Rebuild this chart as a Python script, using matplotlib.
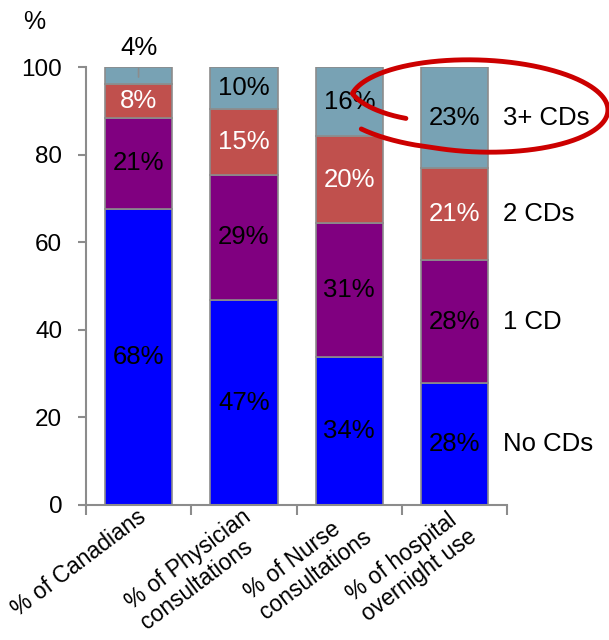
import matplotlib.pyplot as plt
import numpy as np

plt.rcParams['font.family'] = ['Liberation Sans', 'DejaVu Sans']

categories = ['% of Canadians', '% of Physician\nconsultations',
              '% of Nurse\nconsultations', '% of hospital\novernight use']
groups = ['No CDs', '1 CD', '2 CDs', '3+ CDs']
no_cds = [67.6, 46.8, 33.7, 27.8]
one_cd = [20.9, 28.6, 30.6, 28.2]
two_cds = [7.6, 15.0, 20.0, 21.0]
three_cds = [3.9, 9.6, 15.7, 23.0]

series = [no_cds, one_cd, two_cds, three_cds]
colors = ['#0000FF', '#800080', '#C0504D', '#78A2B4']
text_colors = ['black', 'black', 'white', 'black']
grey = '#8C8C8C'

fig = plt.figure(figsize=(6.09, 6.40), dpi=100)
ax = fig.add_axes([0.141, 0.211, 0.692, 0.684])

x = np.arange(len(categories))
bottom = np.zeros(len(categories))
for vals, col, tcol in zip(series, colors, text_colors):
    vals = np.array(vals)
    ax.bar(x, vals, 0.64, bottom=bottom, color=col, edgecolor=grey, linewidth=1.2, zorder=2)
    for i, v in enumerate(vals):
        if v < 5:
            # small segment: label above the bar with a short leader line
            ax.annotate(f'{v:.0f}%', xy=(x[i], bottom[i] + v / 2 - 0.3),
                        xytext=(x[i], 104.3), ha='center', va='center',
                        fontsize=18.5, color='black', annotation_clip=False,
                        arrowprops=dict(arrowstyle='-', color=grey, lw=1.2,
                                        shrinkA=4, shrinkB=0))
        else:
            ax.text(x[i], bottom[i] + v / 2, f'{v:.0f}%', ha='center', va='center',
                    fontsize=18.5, color=tcol, zorder=3)
    bottom += vals

# group names to the right of the last bar
bottom = 0.0
for name, vals in zip(groups, series):
    ax.text(3.46, bottom + vals[-1] / 2, name, ha='left', va='center',
            fontsize=18.5, clip_on=False)
    bottom += vals[-1]

ax.set_xlim(-0.5, 3.5)
ax.set_ylim(0, 100)
ax.set_yticks(np.arange(0, 101, 20))
ax.set_xticks(np.arange(-0.5, 4, 1))
ax.set_xticklabels([])
ax.tick_params(axis='x', which='major', length=7, width=1.5, color=grey)
ax.tick_params(axis='y', length=6, width=1.5, color=grey, pad=11, labelsize=17.5)
for s in ['top', 'right']:
    ax.spines[s].set_visible(False)
for s in ['left', 'bottom']:
    ax.spines[s].set_color(grey)
    ax.spines[s].set_linewidth(1.5)

# rotated category names under the bars
for i, cat in enumerate(categories):
    ax.annotate(cat, xy=(x[i], 0), xycoords=('data', 'axes fraction'),
                xytext=(-1.5, 0), textcoords='offset points',
                rotation=37, rotation_mode='anchor', ha='right', va='top',
                multialignment='left', fontsize=16.5, linespacing=1.1)

fig.text(0.056, 0.966, '%', ha='center', va='center', fontsize=18)

# hand-drawn red loop around the 3+ CDs segment
deg = np.linspace(210, -147, 400)
t = np.radians(deg)
s = 1 - 0.35 * np.clip((deg - 170) / 40, 0, 1) + 0.08 * np.clip((-110 - deg) / 37, 0, 1)
cx, cy, a, b = 479, 106, 129, 46
tilt = np.radians(-2)
px = a * np.cos(t) * s
py = b * np.sin(t) * s
rx = cx + px * np.cos(tilt) - py * np.sin(tilt)
ry = cy - (px * np.sin(tilt) + py * np.cos(tilt))
fig.add_artist(plt.Line2D(rx / 609, 1 - ry / 640, transform=fig.transFigure,
                          color='#CC0000', lw=3.5, solid_capstyle='round'))

fig.savefig('out.png', dpi=100)
